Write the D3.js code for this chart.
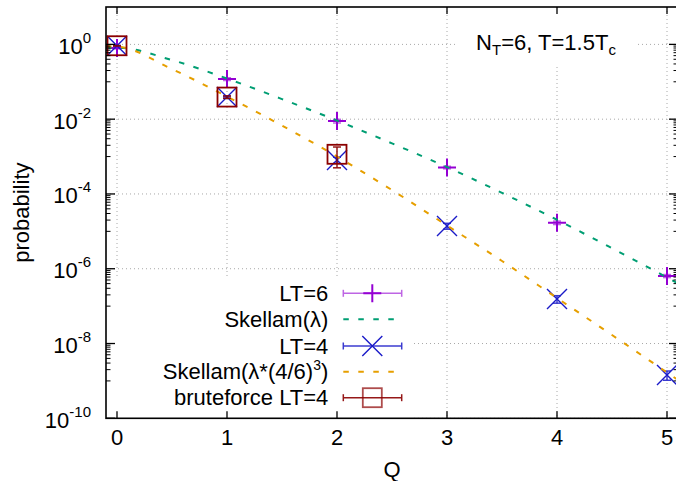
<!DOCTYPE html>
<html>
<head>
<meta charset="utf-8">
<script src="https://cdn.jsdelivr.net/npm/d3@7"></script>
<style>
  html, body { margin: 0; padding: 0; background: #fff; }
  svg { display: block; }
  text { font-family: "Liberation Sans", Arial, Helvetica, sans-serif; fill: #000; }
</style>
</head>
<body>
<svg id="chart" width="676" height="481"></svg>
<script>
// ---------------- data ----------------
const qValues = [0, 1, 2, 3, 4, 5];
const lt6 = [0.80, 0.118, 0.0089, 5.1e-4, 1.7e-5, 6.4e-7];
const lt6Err = [0.04, 0.010, 0.0010, 4e-5, 1.8e-6, 6e-8];
const lt4 = [0.92, 0.039, 8.1e-4, 1.39e-5, 1.55e-7, 1.44e-9];
const lt4Err = [0.01, 0.002, 1.5e-4, 2.5e-6, 3.5e-8, 0.4e-9];
const bruteQ = [0, 1, 2];
const brute = [0.92, 0.039, 1.15e-3];
const bruteErr = [0.01, 0.003, 6.5e-4];

const curveQ = [-0.1, 0, 0.5, 1, 1.5, 2, 2.5, 3, 3.5, 4, 4.5, 5, 5.1];
const skellam = [0.811, 0.821, 0.380, 0.122, 0.0345, 0.00918, 0.002254, 5.24e-4, 1.07e-4, 2.04e-5, 3.53e-6, 5.85e-7, 4.07e-7];
const skellam46 = [0.890, 0.873, 0.2186, 0.0402, 0.00674, 1.0e-3, 1.27e-4, 1.43e-5, 1.61e-6, 1.65e-7, 1.69e-8, 1.68e-9, 1.06e-9];

const xTicks = [0, 1, 2, 3, 4, 5];
const yTickExps = [0, -2, -4, -6, -8, -10];

const legendLabels = ["LT=6", "Skellam(λ)", "LT=4", "Skellam(λ*(4/6)", "bruteforce LT=4"];

// ---------------- layout ----------------
const L = 106, R = 678, T = 7, B = 418.3;
const svg = d3.select("#chart");
const x = d3.scaleLinear().domain([-0.1, 5.1]).range([L, R]);
const y = d3.scaleLog().domain([1e-10, 10]).range([B, T]);

const cPurple = "#9400d3", cGreen = "#009e73", cBlue = "#1a1ac8", cOrange = "#e69f00", cRed = "#8b0000";

svg.append("defs").append("clipPath").attr("id", "clip")
  .append("rect").attr("x", L).attr("y", T).attr("width", R - L).attr("height", B - T);

// grid
const grid = svg.append("g").attr("stroke", "#a8a8a8").attr("stroke-width", 1).attr("stroke-dasharray", "1,3");
xTicks.forEach(v => grid.append("line").attr("x1", x(v)).attr("x2", x(v)).attr("y1", T).attr("y2", B));
yTickExps.forEach(e => grid.append("line").attr("x1", L).attr("x2", R).attr("y1", y(Math.pow(10, e))).attr("y2", y(Math.pow(10, e))));

// opaque boxes (key, label)
svg.append("rect").attr("x", L + 1).attr("y", 278).attr("width", 414 - L - 1).attr("height", B - 278).attr("fill", "#fff");
svg.append("rect").attr("x", 455).attr("y", T + 1).attr("width", 638 - 455).attr("height", 67 - T - 1).attr("fill", "#fff");

const plot = svg.append("g").attr("clip-path", "url(#clip)");

function errBars(g, qs, vals, errs, color, opacity) {
  qs.forEach((q, i) => {
    const cx = x(q), y1 = y(vals[i] + errs[i]), y2 = y(Math.max(vals[i] - errs[i], 1e-12));
    const eg = g.append("g").attr("stroke", color).attr("stroke-width", 1.5).attr("opacity", opacity);
    eg.append("line").attr("x1", cx).attr("x2", cx).attr("y1", y1).attr("y2", y2);
    eg.append("line").attr("x1", cx - 4).attr("x2", cx + 4).attr("y1", y1).attr("y2", y1);
    eg.append("line").attr("x1", cx - 4).attr("x2", cx + 4).attr("y1", y2).attr("y2", y2);
  });
}
const plusPath = "M-9,0H9M0,-9V9";
const crossPath = "M-10,-10L10,10M-10,10L10,-10";

const line = d3.line().x(d => x(d[0])).y(d => y(d[1])).curve(d3.curveMonotoneX);

// LT=6
errBars(plot, qValues, lt6, lt6Err, cPurple, 0.6);
plot.selectAll(".p6").data(qValues).enter().append("path")
  .attr("d", plusPath).attr("transform", (q, i) => `translate(${x(q)},${y(lt6[i])})`)
  .attr("stroke", cPurple).attr("stroke-width", 2).attr("fill", "none");
// Skellam(λ)
plot.append("path").datum(curveQ.map((q, i) => [q, skellam[i]])).attr("d", line)
  .attr("fill", "none").attr("stroke", cGreen).attr("stroke-width", 2).attr("stroke-dasharray", "5.5,9.5");
// LT=4
errBars(plot, qValues, lt4, lt4Err, cBlue, 0.85);
plot.selectAll(".p4").data(qValues).enter().append("path")
  .attr("d", crossPath).attr("transform", (q, i) => `translate(${x(q)},${y(lt4[i])})`)
  .attr("stroke", cBlue).attr("stroke-width", 1.4).attr("fill", "none");
// Skellam(λ*(4/6)^3)
plot.append("path").datum(curveQ.map((q, i) => [q, skellam46[i]])).attr("d", line)
  .attr("fill", "none").attr("stroke", cOrange).attr("stroke-width", 2).attr("stroke-dasharray", "5.5,9.5");
// bruteforce
errBars(plot, bruteQ, brute, bruteErr, cRed, 0.9);
plot.selectAll(".pb").data(bruteQ).enter().append("rect")
  .attr("x", q => x(q) - 9.5).attr("y", (q, i) => y(brute[i]) - 9.5)
  .attr("width", 19).attr("height", 19)
  .attr("stroke", cRed).attr("stroke-width", 1.8).attr("fill", "none");

// border & ticks
const ax = svg.append("g").attr("stroke", "#000");
ax.append("rect").attr("x", L).attr("y", T).attr("width", R - L).attr("height", B - T)
  .attr("fill", "none").attr("stroke-width", 1.6);
xTicks.forEach(v => {
  ax.append("line").attr("x1", x(v)).attr("x2", x(v)).attr("y1", B).attr("y2", B - 7).attr("stroke-width", 1.3);
  ax.append("line").attr("x1", x(v)).attr("x2", x(v)).attr("y1", T).attr("y2", T + 7).attr("stroke-width", 1.3);
});
yTickExps.forEach(e => {
  const yy = y(Math.pow(10, e));
  ax.append("line").attr("x1", L).attr("x2", L + 9).attr("y1", yy).attr("y2", yy).attr("stroke-width", 1.3);
  ax.append("line").attr("x1", R).attr("x2", R - 9).attr("y1", yy).attr("y2", yy).attr("stroke-width", 1.3);
  for (let m = 1; m <= 9; m++) {
    const v = m * Math.pow(10, e - 1);
    if (v < 1e-10 || v > 10) continue;
    const ym = y(v);
    ax.append("line").attr("x1", L).attr("x2", L + 4.5).attr("y1", ym).attr("y2", ym).attr("stroke-width", 1);
    ax.append("line").attr("x1", R).attr("x2", R - 4.5).attr("y1", ym).attr("y2", ym).attr("stroke-width", 1);
  }
});

// tick labels
const fs = 22, fsSup = 15;
xTicks.forEach(v => {
  svg.append("text").attr("x", x(v)).attr("y", 445).attr("text-anchor", "middle")
    .attr("font-size", fs).text(v);
});
yTickExps.forEach(e => {
  const t = svg.append("text").attr("x", 91).attr("y", y(Math.pow(10, e)) + 9.5)
    .attr("text-anchor", "end").attr("font-size", fs);
  t.append("tspan").text("10");
  t.append("tspan").attr("dy", -11).attr("font-size", fsSup).text(String(e));
});

// axis labels
svg.append("text").attr("x", (L + R) / 2).attr("y", 477).attr("text-anchor", "middle")
  .attr("font-size", fs).text("Q");
svg.append("text").attr("transform", `translate(29,${(T + B) / 2}) rotate(-90)`)
  .attr("text-anchor", "middle").attr("font-size", fs).text("probability");

// title label
const tt = svg.append("text").attr("x", 546).attr("y", 50).attr("text-anchor", "middle").attr("font-size", fs);
tt.append("tspan").text("N");
tt.append("tspan").attr("dy", 5).attr("font-size", fsSup).text("T");
tt.append("tspan").attr("dy", -5).text("=6, T=1.5T");
tt.append("tspan").attr("dy", 5).attr("font-size", fsSup).text("c");

// legend
const rowY = [293.3, 319.3, 346, 371.7, 397.7];
const textX = 328.3, s1 = 343.3, s2 = 401.7, mx = 372.3;
const lg = svg.append("g");
legendLabels.forEach((lab, i) => {
  const t = lg.append("text").attr("x", textX).attr("y", rowY[i] + 7.5).attr("text-anchor", "end").attr("font-size", fs);
  t.append("tspan").text(lab);
  if (i === 3) {
    t.append("tspan").attr("dy", -9).attr("font-size", 14).text("3");
    t.append("tspan").attr("dy", 9).text(")");
  }
});
function legendErr(yy, color, op) {
  const g = lg.append("g").attr("stroke", color).attr("stroke-width", 1.5).attr("opacity", op);
  g.append("line").attr("x1", s1).attr("x2", s2).attr("y1", yy).attr("y2", yy);
  g.append("line").attr("x1", s1).attr("x2", s1).attr("y1", yy - 3.5).attr("y2", yy + 3.5);
  g.append("line").attr("x1", s2).attr("x2", s2).attr("y1", yy - 3.5).attr("y2", yy + 3.5);
}
legendErr(rowY[0], cPurple, 0.6);
lg.append("path").attr("d", plusPath).attr("transform", `translate(${mx},${rowY[0]})`)
  .attr("stroke", cPurple).attr("stroke-width", 2).attr("fill", "none");
lg.append("line").attr("x1", s1).attr("x2", s1 + 50.7).attr("y1", rowY[1]).attr("y2", rowY[1])
  .attr("stroke", cGreen).attr("stroke-width", 2).attr("stroke-dasharray", "5.5,9.5");
legendErr(rowY[2], cBlue, 0.85);
lg.append("path").attr("d", crossPath).attr("transform", `translate(${mx},${rowY[2]})`)
  .attr("stroke", cBlue).attr("stroke-width", 1.4).attr("fill", "none");
lg.append("line").attr("x1", s1).attr("x2", s1 + 50.7).attr("y1", rowY[3]).attr("y2", rowY[3])
  .attr("stroke", cOrange).attr("stroke-width", 2).attr("stroke-dasharray", "5.5,9.5");
legendErr(rowY[4], cRed, 0.9);
lg.append("rect").attr("x", mx - 9.5).attr("y", rowY[4] - 9.5).attr("width", 19).attr("height", 19)
  .attr("stroke", cRed).attr("stroke-width", 1.8).attr("fill", "none").attr("opacity", 0.7);
</script>
</body>
</html>
